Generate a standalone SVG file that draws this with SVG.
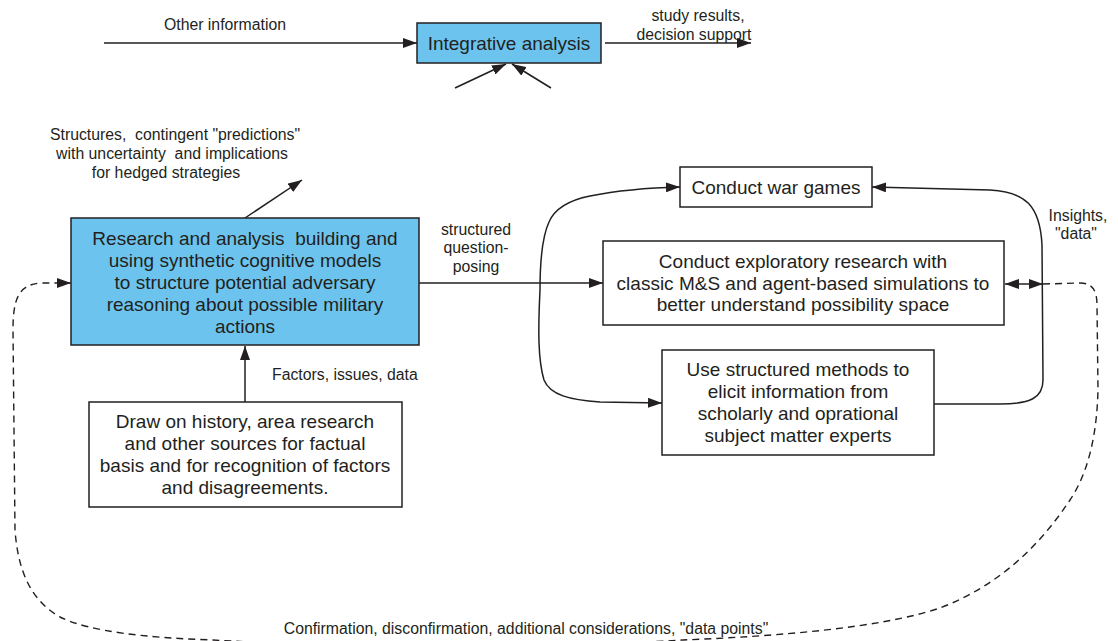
<svg xmlns="http://www.w3.org/2000/svg" width="1118" height="641" viewBox="0 0 1118 641">
<defs>
<marker id="ah" viewBox="0 0 14 10" refX="14" refY="5" markerWidth="14" markerHeight="10" markerUnits="userSpaceOnUse" orient="auto">
<path d="M0,0 L14,5 L0,10 Z" fill="#231f20"/>
</marker>
<marker id="ahs" viewBox="0 0 14 10" refX="0" refY="5" markerWidth="14" markerHeight="10" markerUnits="userSpaceOnUse" orient="auto">
<path d="M14,0 L0,5 L14,10 Z" fill="#231f20"/>
</marker>
</defs>
<style>
.box{fill:#fff;stroke:#231f20;stroke-width:1.5}
.blue{fill:#6cc4ee;stroke:#231f20;stroke-width:1.5}
.bt{font-family:"Liberation Sans",Arial,sans-serif;font-size:19px;fill:#231f20;text-anchor:middle;white-space:pre}
.lb{font-family:"Liberation Sans",Arial,sans-serif;font-size:15.8px;fill:#231f20;text-anchor:middle;white-space:pre}
.ln{fill:none;stroke:#231f20;stroke-width:1.5}
.dash{fill:none;stroke:#231f20;stroke-width:1.4;stroke-dasharray:7,5}
</style>
<rect width="1118" height="641" fill="#fff"/>

<g id="connectors">
<path class="ln" d="M104,43 L417,43" marker-end="url(#ah)"/>
<path class="ln" d="M605,43 L751,43" marker-end="url(#ah)"/>
<path class="ln" d="M455,88 L506,64" marker-end="url(#ah)"/>
<path class="ln" d="M551,88 L512,64" marker-end="url(#ah)"/>
<path class="ln" d="M245,218 L302,180" marker-end="url(#ah)"/>
<path class="ln" d="M245,402 L245,346" marker-end="url(#ah)"/>
<path class="ln" d="M419,283 L603,283" marker-end="url(#ah)"/>
<path class="ln" d="M540,290 C540,260 543,235 549,222 C555,208 570,200 590,196 C615,191 640,188 680,187" marker-end="url(#ah)"/>
<path class="ln" d="M540,290 C538,330 538,360 544,380 C550,395 570,400 600,402 L662,403" marker-end="url(#ah)"/>
<path class="ln" d="M872,187 L990,190 C1025,192 1040,205 1042,245 L1043,380 C1043,398 1030,404 1000,404 L934,404" marker-start="url(#ahs)"/>
<path class="ln" d="M1005,284 L1043,284" marker-start="url(#ahs)" marker-end="url(#ah)"/>
<path class="dash" d="M1043,284 L1080,283 C1092,283 1097,290 1097,305 L1098,390 C1097,430 1090,470 1070,500 C1040,545 1000,585 940,608 C880,628 780,636 683,640 C550,648 350,648 213,640 C150,638 90,632 60,617 C30,600 18,570 15,530 L13,330 C13,300 18,285 40,283 L71,283" marker-end="url(#ah)"/>
</g>

<g id="integrative">
<rect class="blue" x="417" y="23" width="184" height="40"/>
<text class="bt" x="509" y="50">Integrative analysis</text>
</g>

<g id="research">
<rect class="blue" x="71" y="218" width="348" height="127"/>
<text class="bt" x="245" y="245">Research and analysis  building and</text>
<text class="bt" x="245" y="267">using synthetic cognitive models</text>
<text class="bt" x="245" y="289">to structure potential adversary</text>
<text class="bt" x="245" y="311">reasoning about possible military</text>
<text class="bt" x="245" y="333">actions</text>
</g>

<g id="history">
<rect class="box" x="89" y="402" width="313" height="105"/>
<text class="bt" x="245" y="428">Draw on history, area research</text>
<text class="bt" x="245" y="450">and other sources for factual</text>
<text class="bt" x="245" y="472">basis and for recognition of factors</text>
<text class="bt" x="245" y="494">and disagreements.</text>
</g>

<g id="wargames">
<rect class="box" x="680" y="167" width="192" height="40"/>
<text class="bt" x="776" y="194">Conduct war games</text>
</g>

<g id="exploratory">
<rect class="box" x="603" y="241" width="401" height="84"/>
<text class="bt" x="803" y="268">Conduct exploratory research with</text>
<text class="bt" x="803" y="290">classic M&amp;S and agent-based simulations to</text>
<text class="bt" x="803" y="311">better understand possibility space</text>
</g>

<g id="experts">
<rect class="box" x="662" y="350" width="272" height="105"/>
<text class="bt" x="798" y="376">Use structured methods to</text>
<text class="bt" x="798" y="398">elicit information from</text>
<text class="bt" x="798" y="420">scholarly and oprational</text>
<text class="bt" x="798" y="442">subject matter experts</text>
</g>

<g id="labels">
<text class="lb" x="225" y="30">Other information</text>
<text class="lb" x="698" y="21">study results,</text>
<text class="lb" x="694" y="40">decision support</text>
<text class="lb" x="175" y="140">Structures,  contingent "predictions"</text>
<text class="lb" x="172" y="159">with uncertainty  and implications</text>
<text class="lb" x="166" y="178">for hedged strategies</text>
<text class="lb" x="476" y="235">structured</text>
<text class="lb" x="476" y="253">question-</text>
<text class="lb" x="476" y="272">posing</text>
<text class="lb" x="272" y="380" style="text-anchor:start">Factors, issues, data</text>
<text class="lb" x="1078" y="221">Insights,</text>
<text class="lb" x="1076" y="239">"data"</text>
<text class="lb" x="526" y="634">Confirmation, disconfirmation, additional considerations, "data points"</text>
</g>
</svg>
